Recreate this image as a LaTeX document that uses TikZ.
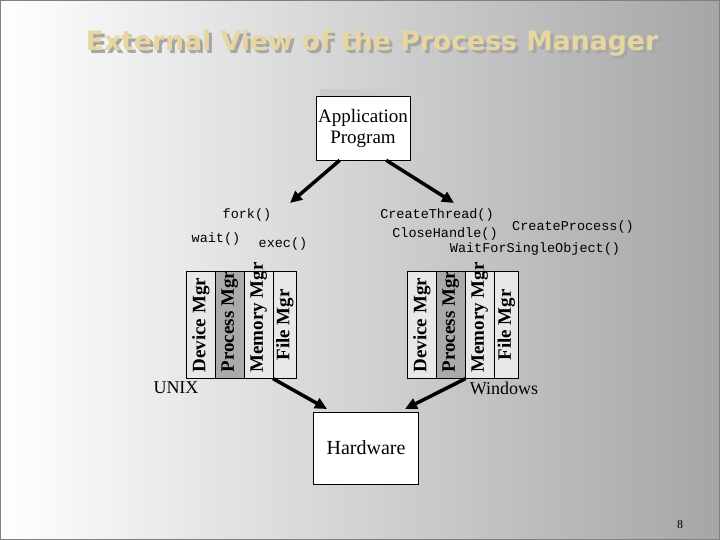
\documentclass[tikz,border=0pt]{standalone}
\usepackage{fontspec}
\setmainfont{Liberation Serif}
\setmonofont{Liberation Mono}
\newfontfamily\titlefont{DejaVu Sans}
\usetikzlibrary{arrows.meta}
\definecolor{titlecol}{RGB}{232,214,160}
\definecolor{pm}{RGB}{170,170,170}
\definecolor{lt}{RGB}{232,232,232}
\begin{document}
\begin{tikzpicture}[x=1pt,y=-1pt,
  col/.style={draw=black,line width=0.6pt,minimum width=29pt,minimum height=107pt,anchor=north west,inner sep=0pt},
  lab/.style={font=\fontsize{19}{19}\selectfont\bfseries,rotate=90,anchor=west,inner sep=0pt},
  code/.style={font=\ttfamily\fontsize{13.5}{13.5}\selectfont},
  big/.style={-{Triangle[length=12pt,width=11pt]},line width=3.5pt},
  boxn/.style={draw=black,fill=white,line width=0.6pt,align=center,inner sep=0pt}]
\useasboundingbox (0,0) rectangle (720,540);
\shade[left color=white,right color=black!35] (0,0) rectangle (720,540);
\draw[black!50,line width=1pt] (0.5,0.5) rectangle (719.5,539.5);
% title
\node[text=black!35,font=\titlefont\bfseries\fontsize{29}{29}\selectfont,scale=0.92] at (375,46) {External View of the Process Manager};
\node (title) [text=titlecol,font=\titlefont\bfseries\fontsize{29}{29}\selectfont,scale=0.92] at (372,43) {External View of the Process Manager};
% application
\fill[black!20] (320,89) rectangle (418,155);
\node (app) [boxn,minimum width=94pt,minimum height=64pt,font=\fontsize{19}{21}\selectfont] at (363,128) {Application\\Program};
% UNIX stack
\node (u1) [col,fill=lt] at (186,271) {}; \node[lab] at ([yshift=6pt]u1.south) {Device Mgr};
\node (u2) [col,fill=pm] at (215,271) {}; \node[lab] at ([yshift=6pt]u2.south) {Process Mgr};
\node (u3) [col,fill=lt] at (244,271) {}; \node[lab] at ([yshift=6pt]u3.south) {Memory Mgr};
\node (u4) [col,fill=lt,minimum width=23pt] at (273,271) {}; \node[lab] at ([yshift=18pt]u4.south) {File Mgr};
% Windows stack
\node (w1) [col,fill=lt] at (407,271) {}; \node[lab] at ([yshift=6pt]w1.south) {Device Mgr};
\node (w2) [col,fill=pm] at (436,271) {}; \node[lab] at ([yshift=6pt]w2.south) {Process Mgr};
\node (w3) [col,fill=lt] at (465,271) {}; \node[lab] at ([yshift=6pt]w3.south) {Memory Mgr};
\node (w4) [col,fill=lt,minimum width=24pt] at (494,271) {}; \node[lab] at ([yshift=18pt]w4.south) {File Mgr};
% hardware
\node (hw) [boxn,minimum width=105pt,minimum height=72pt,font=\fontsize{20}{20}\selectfont] at (366,448) {Hardware};
% labels
\node (unix) [font=\fontsize{18}{18}\selectfont] at (176,388) {UNIX};
\node (win) [font=\fontsize{18}{18}\selectfont] at (504,388) {Windows};
\node (fork) [code] at (247,215) {fork()};
\node (wait) [code] at (216,239) {wait()};
\node (exec) [code] at (283,244) {exec()};
\node (ct) [code] at (437,215) {CreateThread()};
\node (ch) [code] at (445,234) {CloseHandle()};
\node (cp) [code] at (573,227) {CreateProcess()};
\node (wf) [code] at (535,249) {WaitForSingleObject()};
\node (pg) [font=\fontsize{12}{12}\selectfont] at (680,525) {8};
% arrows
\coordinate (a1) at (290,203); \coordinate (a2) at (454,203);
\coordinate (h1) at (327,409); \coordinate (h2) at (405,409);
\draw[big] (app.south west)++(24,0) -- (a1);
\draw[big] (app.south east)++(-24,0) -- (a2);
\draw[big] (u4.south west) -- (h1);
\draw[big] (w2.south east) -- (h2);
\end{tikzpicture}
\end{document}
